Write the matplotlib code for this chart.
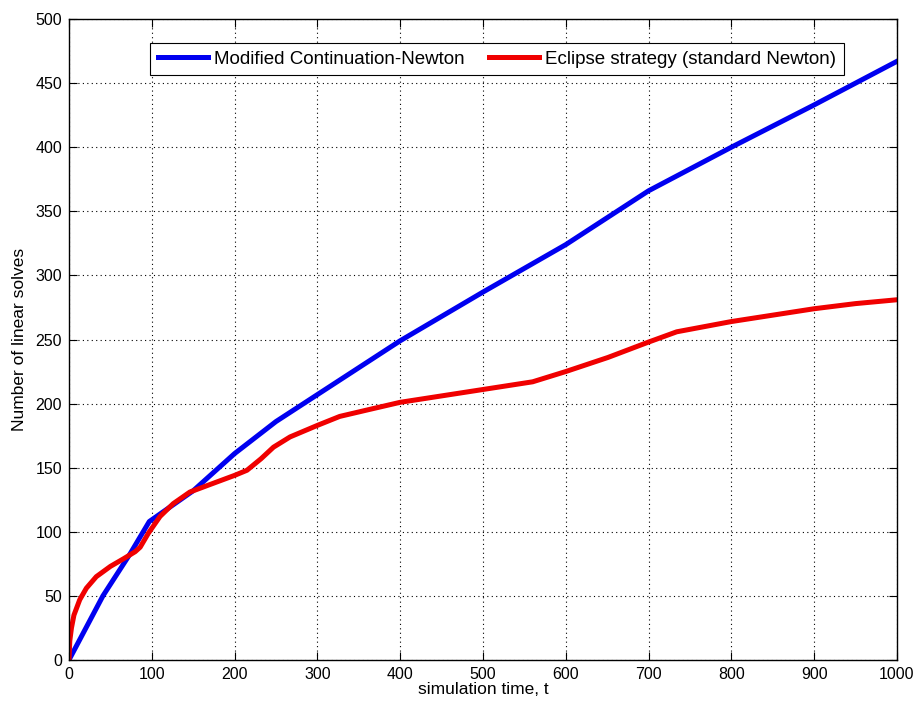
import matplotlib
matplotlib.use('Agg')
import matplotlib.pyplot as plt

plt.rcParams['font.family'] = ['Liberation Sans', 'DejaVu Sans']

# Modified Continuation-Newton
t_cont = [0, 41, 74, 97, 150, 200, 250, 300, 400, 500, 600, 700, 800, 900, 1000]
n_cont = [0, 50, 83, 108, 132, 161, 186, 207, 249, 287, 324, 366, 400, 433, 467]

# Eclipse strategy (standard Newton)
t_ecl = [0, 1, 3, 6, 13, 21, 33, 50, 66, 80, 86, 96, 110, 126, 146, 175, 200, 215,
         232, 247, 267, 300, 327, 360, 400, 450, 500, 560, 600, 651, 700, 734, 800,
         850, 900, 950, 1000]
n_ecl = [0, 15, 25, 35, 47, 56, 65, 73, 79, 84.5, 88, 99, 112, 122, 131, 138, 144, 148,
         157, 166, 174, 183, 190, 195, 201, 206, 211, 217, 225, 236, 248, 256, 264,
         269, 274, 278, 281]

x_ticks = [0, 100, 200, 300, 400, 500, 600, 700, 800, 900, 1000]
y_ticks = [0, 50, 100, 150, 200, 250, 300, 350, 400, 450, 500]

fig = plt.figure(figsize=(9.16, 7.07), dpi=100)
ax = fig.add_axes([0.0753, 0.0665, 0.9039, 0.9066])

ax.plot(t_cont, n_cont, color='#0000f0', lw=3.6, solid_joinstyle='round',
        label='Modified Continuation-Newton')
ax.plot(t_ecl, n_ecl, color='#f00000', lw=3.6, solid_joinstyle='round',
        label='Eclipse strategy (standard Newton)')

ax.set_xlim(0, 1000)
ax.set_ylim(0, 500)
ax.set_xticks(x_ticks)
ax.set_yticks(y_ticks)
ax.tick_params(direction='in', length=6, width=0.8, top=True, right=True,
               labelsize=11.5, pad=5)
ax.grid(True, color='black', linestyle=(0, (1, 3)), lw=0.8)
for s in ax.spines.values():
    s.set_linewidth(1.0)

ax.set_xlabel('simulation time, t', fontsize=12.5, labelpad=0)
ax.set_ylabel('Number of linear solves', fontsize=12.5, labelpad=6)

leg = ax.legend(loc='upper left', bbox_to_anchor=(0.098, 0.9626), ncol=2,
                fontsize=13.5, handlelength=2.7, handletextpad=0.3, columnspacing=1.3,
                borderpad=0.4, borderaxespad=0, fancybox=False, framealpha=1,
                edgecolor='black')
leg.get_frame().set_linewidth(0.8)

fig.savefig('out.png', dpi=100)
